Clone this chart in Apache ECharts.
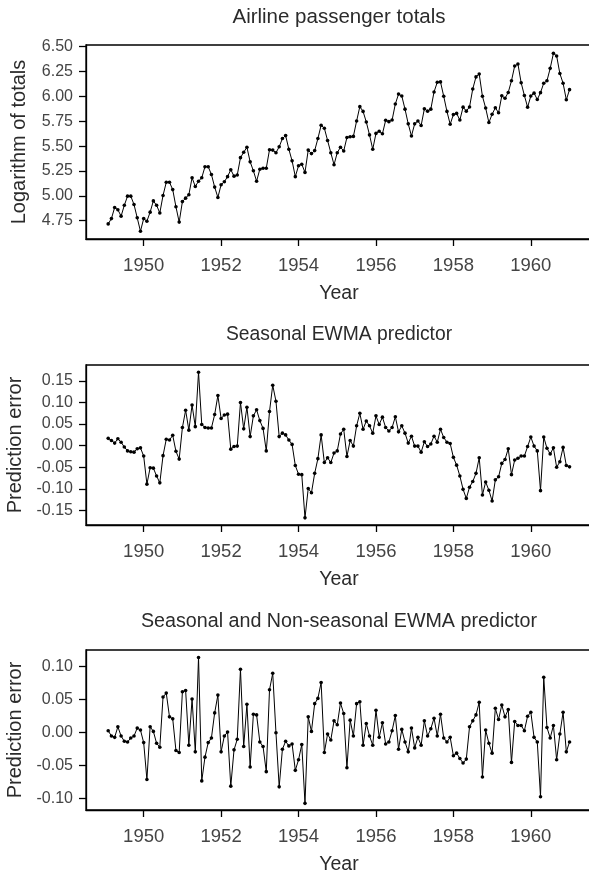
<!DOCTYPE html>
<html>
<head>
<meta charset="utf-8">
<title>Airline passenger totals and EWMA prediction errors</title>
<script src="https://cdn.jsdelivr.net/npm/echarts@6/dist/echarts.min.js"></script>
<style>
  html, body { margin: 0; padding: 0; background: #ffffff; }
  #chart { width: 589px; height: 875px; }
</style>
</head>
<body>
<div id="chart"></div>
<script>
// Natural log of monthly airline passenger totals, Jan 1949 - Dec 1960
const logTotals = [
  4.718, 4.771, 4.883, 4.860, 4.796, 4.905, 4.997, 4.997, 4.913, 4.779, 4.644, 4.771,
  4.745, 4.836, 4.949, 4.905, 4.828, 5.004, 5.136, 5.136, 5.063, 4.890, 4.736, 4.942,
  4.977, 5.011, 5.182, 5.094, 5.147, 5.182, 5.293, 5.293, 5.215, 5.088, 4.984, 5.112,
  5.142, 5.193, 5.263, 5.198, 5.209, 5.384, 5.438, 5.489, 5.342, 5.252, 5.147, 5.268,
  5.278, 5.278, 5.464, 5.460, 5.434, 5.493, 5.576, 5.606, 5.468, 5.352, 5.193, 5.303,
  5.318, 5.236, 5.460, 5.425, 5.455, 5.576, 5.710, 5.680, 5.557, 5.434, 5.313, 5.434,
  5.489, 5.451, 5.587, 5.595, 5.598, 5.753, 5.897, 5.849, 5.743, 5.613, 5.468, 5.628,
  5.649, 5.624, 5.759, 5.746, 5.762, 5.924, 6.023, 6.004, 5.872, 5.724, 5.602, 5.724,
  5.753, 5.707, 5.875, 5.852, 5.872, 6.045, 6.142, 6.146, 6.001, 5.849, 5.720, 5.817,
  5.829, 5.762, 5.892, 5.852, 5.894, 6.075, 6.196, 6.225, 6.001, 5.883, 5.737, 5.820,
  5.886, 5.835, 6.006, 5.981, 6.040, 6.157, 6.306, 6.326, 6.138, 6.009, 5.892, 6.004,
  6.033, 5.969, 6.038, 6.133, 6.157, 6.282, 6.433, 6.407, 6.230, 6.133, 5.966, 6.068
];

// One-step prediction errors of the seasonal EWMA predictor
const seasonalErrors = [
  0.017, 0.012, 0.006, 0.016, 0.008, -0.003, -0.012, -0.014, -0.015, -0.007, -0.005, -0.024,
  -0.089, -0.051, -0.052, -0.070, -0.086, -0.023, 0.015, 0.013, 0.024, -0.013, -0.031, 0.042,
  0.082, 0.036, 0.094, 0.044, 0.170, 0.049, 0.042, 0.041, 0.041, 0.072, 0.116, 0.063,
  0.071, 0.073, -0.008, -0.002, -0.001, 0.100, 0.039, 0.089, 0.021, 0.069, 0.083, 0.058,
  0.040, -0.012, 0.079, 0.140, 0.103, 0.021, 0.029, 0.025, 0.013, 0.003, -0.046, -0.066,
  -0.067, -0.167, -0.099, -0.109, -0.064, -0.030, 0.025, -0.039, -0.028, -0.039, -0.017, -0.012,
  0.027, 0.038, -0.025, 0.012, -0.001, 0.046, 0.075, 0.038, 0.057, 0.046, 0.029, 0.069,
  0.049, 0.066, 0.042, 0.034, 0.042, 0.067, 0.032, 0.046, 0.029, 0.006, 0.022, -0.001,
  -0.001, -0.015, 0.009, -0.002, 0.004, 0.022, 0.008, 0.038, 0.019, 0.008, 0.005, -0.027,
  -0.045, -0.070, -0.101, -0.122, -0.096, -0.083, -0.064, -0.028, -0.114, -0.084, -0.103, -0.128,
  -0.079, -0.072, -0.041, -0.032, -0.007, -0.067, -0.033, -0.029, -0.024, -0.024, -0.002, 0.020,
  -0.001, -0.012, -0.104, 0.020, -0.006, -0.019, -0.005, -0.050, -0.037, -0.004, -0.046, -0.049
];

// One-step prediction errors of the seasonal + non-seasonal EWMA predictor
const combinedErrors = [
  0.003, -0.005, -0.007, 0.009, -0.005, -0.013, -0.014, -0.008, -0.005, 0.007, 0.004, -0.015,
  -0.071, 0.009, 0.002, -0.016, -0.022, 0.054, 0.060, 0.024, 0.021, -0.027, -0.030, 0.062,
  0.064, -0.019, 0.051, -0.029, 0.114, -0.073, -0.037, -0.015, -0.008, 0.030, 0.057, -0.029,
  -0.005, 0.001, -0.081, -0.026, -0.010, 0.096, -0.021, 0.043, -0.052, 0.028, 0.027, -0.014,
  -0.021, -0.059, 0.065, 0.090, 0.000, -0.082, -0.025, -0.013, -0.020, -0.017, -0.057, -0.041,
  -0.018, -0.107, 0.024, 0.002, 0.044, 0.052, 0.076, -0.030, -0.002, -0.011, 0.018, 0.012,
  0.045, 0.029, -0.053, 0.019, -0.005, 0.044, 0.047, -0.019, 0.014, -0.005, -0.019, 0.034,
  -0.007, 0.015, -0.017, -0.014, 0.003, 0.026, -0.025, 0.005, -0.014, -0.029, 0.007, -0.023,
  -0.007, -0.019, 0.018, -0.005, 0.006, 0.022, -0.005, 0.028, -0.008, -0.014, -0.007, -0.035,
  -0.031, -0.039, -0.046, -0.040, 0.009, 0.018, 0.027, 0.046, -0.067, 0.004, -0.016, -0.031,
  0.037, 0.020, 0.042, 0.024, 0.035, -0.045, 0.017, 0.011, 0.011, 0.003, 0.025, 0.031,
  -0.007, -0.014, -0.097, 0.084, 0.008, -0.008, 0.011, -0.041, -0.002, 0.031, -0.029, -0.014
];

// Axis ticks
const yearTicks = [1950, 1952, 1954, 1956, 1958, 1960];
const logTicks = [4.75, 5.00, 5.25, 5.50, 5.75, 6.00, 6.25, 6.50];
const seasonalTicks = [-0.15, -0.10, -0.05, 0.00, 0.05, 0.10, 0.15];
const combinedTicks = [-0.10, -0.05, 0.00, 0.05, 0.10];

const titles = [
  'Airline passenger totals',
  'Seasonal EWMA predictor',
  'Seasonal and Non-seasonal EWMA predictor'
];
const yNames = ['Logarithm of totals', 'Prediction error', 'Prediction error'];

// Monthly time index: the k-th observation sits at 1949 + (k + 1) / 12
const toSeries = vals => vals.map((v, k) => [1949 + (k + 1) / 12, v]);

const FONT = '"Liberation Sans", Arial, Helvetica, sans-serif';
const INK = '#000000';

const panels = [
  { top: 45,  height: 194, yMin: 4.566,  yMax: 6.517,  ticks: logTicks,      data: logTotals },
  { top: 365, height: 160, yMin: -0.1835, yMax: 0.1867, ticks: seasonalTicks, data: seasonalErrors },
  { top: 650, height: 160, yMin: -0.1171, yMax: 0.1253, ticks: combinedTicks, data: combinedErrors }
];
const titleTops = [7, 325.5, 611.5];
const titleSizes = [20.5, 19.3, 19.7];

const chart = echarts.init(document.getElementById('chart'), null, { renderer: 'canvas' });

const option = {
  animation: false,
  backgroundColor: '#ffffff',
  title: titles.map((t, k) => ({
    text: t,
    left: 339,
    top: titleTops[k],
    padding: 0,
    textAlign: 'center',
    textStyle: { fontFamily: FONT, fontSize: titleSizes[k], fontWeight: 'normal', color: '#2b2b2b' }
  })),
  grid: panels.map(p => ({
    left: 86,
    top: p.top,
    width: 506,
    height: p.height,
    show: true,
    borderColor: INK,
    borderWidth: 1.3,
    backgroundColor: 'transparent',
    containLabel: false,
    outerBoundsMode: 'none'
  })),
  xAxis: panels.map((p, k) => ({
    type: 'value',
    gridIndex: k,
    min: 1948.51,
    max: 1961.58,
    axisLine: { show: true, onZero: false, lineStyle: { color: INK, width: 1.3 } },
    splitLine: { show: false },
    axisTick: {
      show: true, inside: false, length: 7,
      customValues: yearTicks,
      lineStyle: { color: INK, width: 1.3 }
    },
    axisLabel: {
      customValues: yearTicks,
      margin: 17,
      fontFamily: FONT, fontSize: 18.5, color: '#444444',
      formatter: v => String(Math.round(v))
    },
    name: 'Year',
    nameLocation: 'middle',
    nameGap: 45,
    nameTextStyle: { fontFamily: FONT, fontSize: 19.5, color: '#2b2b2b' }
  })),
  yAxis: panels.map((p, k) => ({
    type: 'value',
    gridIndex: k,
    min: p.yMin,
    max: p.yMax,
    axisLine: { show: true, onZero: false, lineStyle: { color: INK, width: 1.3 } },
    splitLine: { show: false },
    axisTick: {
      show: true, inside: false, length: 7,
      customValues: p.ticks,
      lineStyle: { color: INK, width: 1.3 }
    },
    axisLabel: {
      customValues: p.ticks,
      margin: 13,
      fontFamily: FONT, fontSize: 16, color: '#444444',
      formatter: v => v.toFixed(2)
    },
    name: yNames[k],
    nameLocation: 'middle',
    nameGap: 57,
    nameTextStyle: { fontFamily: FONT, fontSize: 20, color: '#2b2b2b' }
  })),
  series: panels.map((p, k) => ({
    type: 'line',
    xAxisIndex: k,
    yAxisIndex: k,
    data: toSeries(p.data),
    symbol: 'circle',
    symbolSize: 3.6,
    showSymbol: true,
    showAllSymbol: true,
    lineStyle: { color: INK, width: 1 },
    itemStyle: { color: INK },
    emphasis: { disabled: true },
    silent: true
  }))
};

chart.setOption(option);
</script>
</body>
</html>
